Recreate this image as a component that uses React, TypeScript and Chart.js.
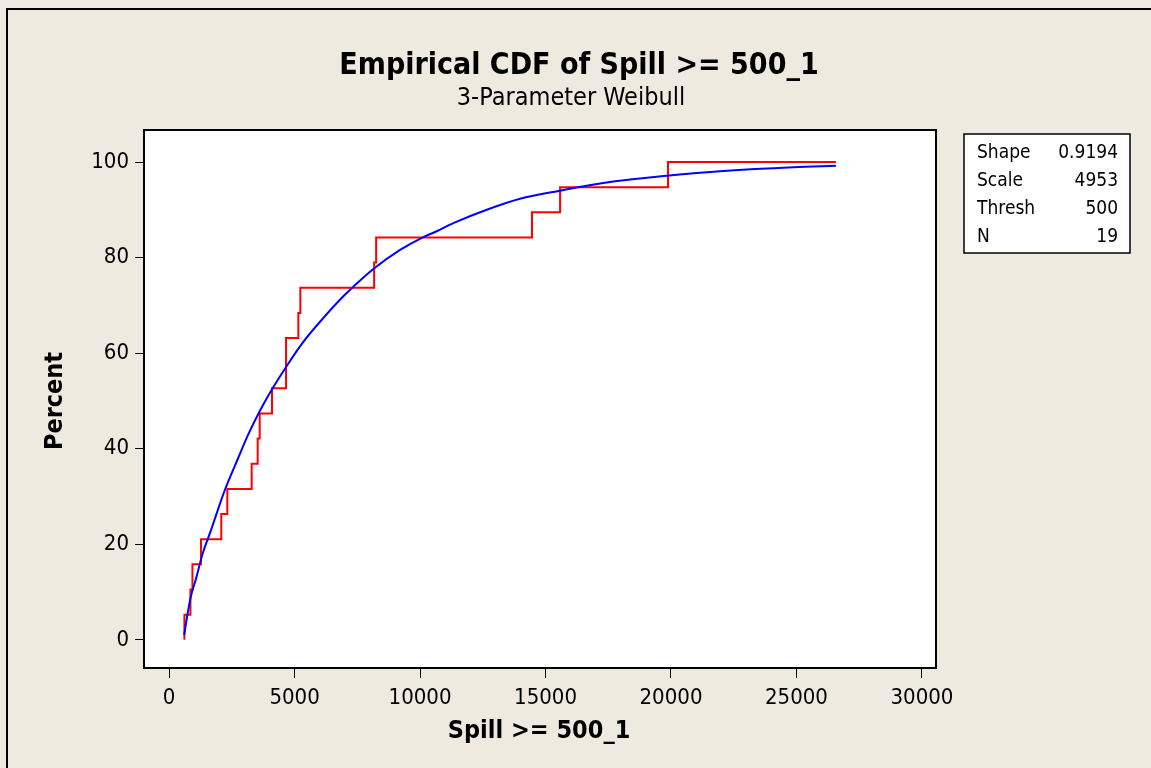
import { useEffect, useRef } from "react";
import { Chart, registerables } from "chart.js";

Chart.register(...registerables);

// Empirical CDF steps (Spill value where the step happens, cumulative percent after it)
const stepSpill = [610, 610, 850, 930, 1270, 2080, 2320, 3290, 3530, 3610, 4100, 4660, 4660, 5150, 5230, 8170, 8250, 14460, 15580, 19880, 26570];
const stepPercent = [0, 5.26, 10.53, 15.79, 21.05, 26.32, 31.58, 36.84, 42.11, 47.37, 52.63, 57.89, 63.16, 68.42, 73.68, 78.95, 84.21, 89.47, 94.74, 100, 100];

// Fitted 3-parameter Weibull curve
const fitSpill = [600, 729, 865, 1068, 1335, 1673, 1944, 2211, 2749, 3155, 3625, 4096, 4637, 5311, 6120, 6924, 7343, 8139, 9203, 10132, 10530, 11327, 12657, 13984, 15578, 17701, 19829, 22084, 24873, 26574];
const fitPercent = [1.0, 5.2, 9.0, 12.7, 18.0, 23.0, 27.2, 31.2, 38.0, 43.0, 48.0, 52.4, 56.9, 62.1, 67.2, 71.8, 73.9, 77.6, 81.6, 84.3, 85.2, 87.2, 90.0, 92.3, 94.0, 95.9, 97.1, 98.1, 98.9, 99.2];

const xTicks = [0, 5000, 10000, 15000, 20000, 25000, 30000];
const yTicks = [0, 20, 40, 60, 80, 100];

const paramLabels = ["Shape", "Scale", "Thresh", "N"];
const paramValues = ["0.9194", "4953", "500", "19"];

const titleText = "Empirical CDF of Spill >= 500_1";
const subtitleText = "3-Parameter Weibull";
const xTitle = "Spill >= 500_1";
const yTitle = "Percent";

const FONT = "'DejaVu Sans Condensed', 'Noto Sans', 'DejaVu Sans', sans-serif";
const BG = "#EEEAE0";

const decorPlugin = {
  id: "decor",
  beforeDraw(chart: any) {
    const { ctx, chartArea: a, width, height } = chart;
    ctx.save();
    ctx.fillStyle = BG;
    ctx.fillRect(0, 0, width, height);
    ctx.fillStyle = "#FFFFFF";
    ctx.fillRect(a.left, a.top, a.right - a.left, a.bottom - a.top);
    ctx.restore();
  },
  afterDraw(chart: any) {
    const { ctx, chartArea: a } = chart;
    ctx.save();
    // outer border (top and left)
    ctx.strokeStyle = "#000";
    ctx.lineWidth = 2;
    ctx.beginPath();
    ctx.moveTo(7, 768);
    ctx.lineTo(7, 9);
    ctx.lineTo(1151, 9);
    ctx.stroke();
    // plot frame
    ctx.lineWidth = 2;
    ctx.strokeRect(a.left, a.top, a.right - a.left, a.bottom - a.top);

    ctx.fillStyle = "#000";
    ctx.textAlign = "center";
    ctx.textBaseline = "middle";
    ctx.font = `bold 30px ${FONT}`;
    ctx.fillText(titleText, 579, 66);
    ctx.font = `25px ${FONT}`;
    ctx.fillText(subtitleText, 571, 98);

    ctx.font = `bold 25px ${FONT}`;
    ctx.fillText(xTitle, (a.left + a.right) / 2 - 1, 731);
    ctx.save();
    ctx.translate(55, (a.top + a.bottom) / 2 + 2);
    ctx.rotate(-Math.PI / 2);
    ctx.fillText(yTitle, 0, 0);
    ctx.restore();

    // parameter box
    ctx.fillStyle = "#FFFFFF";
    ctx.fillRect(964, 134, 166, 119);
    ctx.lineWidth = 1.5;
    ctx.strokeStyle = "#000";
    ctx.strokeRect(964, 134, 166, 119);
    ctx.fillStyle = "#000";
    ctx.font = `19px ${FONT}`;
    paramLabels.forEach((lab, i) => {
      const y = 153 + i * 28;
      ctx.textAlign = "left";
      ctx.fillText(lab, 977, y);
      ctx.textAlign = "right";
      ctx.fillText(paramValues[i], 1118, y);
    });
    ctx.restore();
  },
};

export default function App() {
  const ref = useRef<HTMLCanvasElement | null>(null);

  useEffect(() => {
    if (!ref.current) return;
    const chart = new Chart(ref.current, {
      type: "scatter",
      data: {
        datasets: [
          {
            label: "Fit",
            data: fitSpill.map((x, i) => ({ x, y: fitPercent[i] })),
            showLine: true,
            borderColor: "#0000FF",
            borderWidth: 2,
            pointRadius: 0,
            cubicInterpolationMode: "monotone",
            fill: false,
          },
          {
            label: "Empirical",
            data: stepSpill.map((x, i) => ({ x, y: stepPercent[i] })),
            showLine: true,
            stepped: "before",
            borderColor: "#FF0000",
            borderWidth: 2,
            pointRadius: 0,
            fill: false,
          },
        ],
      },
      options: {
        responsive: false,
        animation: false,
        devicePixelRatio: 1,
        layout: { padding: { top: 130, right: 215, left: 0, bottom: 0 } },
        plugins: { legend: { display: false }, tooltip: { enabled: false }, title: { display: false } },
        scales: {
          x: {
            type: "linear",
            min: -1000,
            max: 30560,
            afterBuildTicks: (s: any) => {
              s.ticks = xTicks.map((v) => ({ value: v }));
            },
            afterFit: (s: any) => {
              s.height = 100;
            },
            ticks: {
              color: "#000",
              font: { family: FONT, size: 22 },
              padding: 7,
              maxRotation: 0,
              autoSkip: false,
              callback: (v: any) => String(v),
            },
            grid: { drawOnChartArea: false, tickLength: 10, color: "#000", lineWidth: 1 },
            border: { display: false },
          },
          y: {
            type: "linear",
            min: -5.9,
            max: 106.7,
            afterBuildTicks: (s: any) => {
              s.ticks = yTicks.map((v) => ({ value: v }));
            },
            afterFit: (s: any) => {
              s.width = 144;
            },
            ticks: {
              color: "#000",
              font: { family: FONT, size: 22 },
              padding: 6,
              autoSkip: false,
              callback: (v: any) => String(v),
            },
            grid: { drawOnChartArea: false, tickLength: 9, color: "#000", lineWidth: 1 },
            border: { display: false },
          },
        },
      },
      plugins: [decorPlugin],
    });
    return () => chart.destroy();
  }, []);

  return (
    <div style={{ position: "fixed", left: 0, top: 0, width: 1151, height: 768, background: BG }}>
      <canvas ref={ref} width={1151} height={768} style={{ display: "block" }} />
    </div>
  );
}
